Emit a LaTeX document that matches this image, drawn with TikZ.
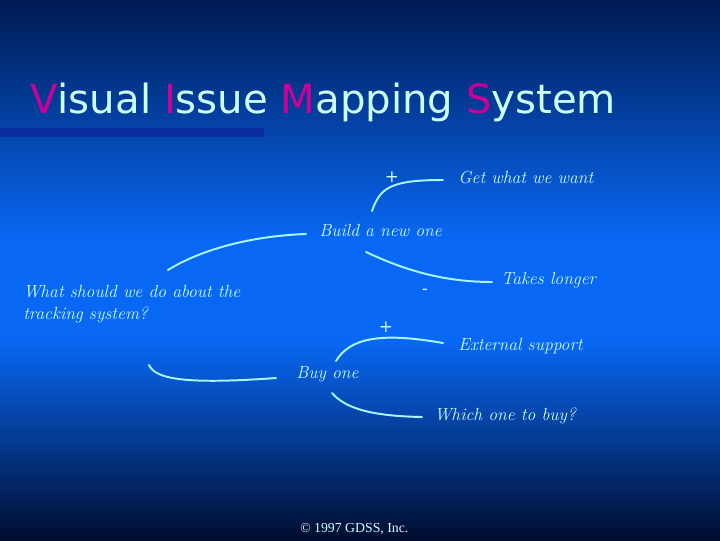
\documentclass[tikz,border=0pt]{standalone}
\usepackage{fontspec}
\usetikzlibrary{calc}
\newfontfamily\titlefont{DejaVu Sans}
\newfontfamily\timesfont{Liberation Serif}
\definecolor{bgtop}{HTML}{001A52}
\definecolor{bgmid}{HTML}{0868F4}
\definecolor{bgbot}{HTML}{000C2E}
\definecolor{barblue}{HTML}{0A2C9C}
\definecolor{initpink}{HTML}{CC0099}
\definecolor{paletext}{HTML}{CCFFFF}
\definecolor{paleline}{HTML}{A8F4FF}

\begin{document}
\begin{tikzpicture}[
  x=0.025cm, y=-0.025cm,
  every node/.style={inner sep=0pt},
  issue/.style={font=\fontsize{12.5}{15.6}\selectfont\itshape,text=paletext,anchor=base west},
  sign/.style={font=\titlefont\fontsize{12}{12}\selectfont,text=paletext},
  link/.style={paleline,line width=1.4pt,line cap=round}
]

% ---- canvas + background ----
\useasboundingbox (0,0) rectangle (720,540);
\fill[top color=bgtop,bottom color=bgmid] (0,0) rectangle (720,240);
\fill[bgmid] (0,239) rectangle (720,341);
\fill[top color=bgmid,bottom color=bgbot] (0,340) rectangle (720,540);

% ---- title ----
\node[font=\titlefont\fontsize{28.6}{28.6}\selectfont,text=paletext,anchor=base west] (title) at (30,113)
  {\textcolor{initpink}{V}isual \textcolor{initpink}{I}ssue \textcolor{initpink}{M}apping \textcolor{initpink}{S}ystem};
\fill[barblue] (0,128) rectangle (264,137);

% ---- issues ----
% (base of a two-line node sits on its last line)
\node[issue,align=left] (q) at (23,319) {What should we do about the\\tracking system?};
\node[issue] (build) at (319,236) {Build a new one};
\node[issue] (get) at (458,183) {Get what we want};
\node[issue] (takes) at (501,284) {Takes longer};
\node[issue] (buy) at (296,378) {Buy one};
\node[issue] (ext) at (458,350) {External support};
\node[issue] (which) at (434,420) {Which one to buy?};

% ---- pro / con signs ----
\node[sign] (plusget) at (392,177) {+};
\node[sign] (minustakes) at (425,292) {-};
\node[sign] (plusext) at (386,327) {+};

% ---- links ----
\draw[link] ([shift={(145,-49)}]q.base west) .. controls +(32,-20) and +(-56,2) .. ([shift={(-13,-2)}]build.base west);
\draw[link] ([shift={(53,-25)}]build.base west) .. controls +(8,-23) and +(-53,0) .. ([shift={(-15,-3)}]get.base west);
\draw[link] ([shift={(47,16)}]build.base west) .. controls +(34,16) and +(-52,0) .. ([shift={(-9,-2)}]takes.base west);
\draw[link] ([shift={(126,46)}]q.base west) .. controls +(6,13) and +(-96,7) .. ([shift={(-20,0)}]buy.base west);
\draw[link] ([shift={(40,-17)}]buy.base west) .. controls +(14,-23) and +(-63,-11) .. ([shift={(-15,-7)}]ext.base west);
\draw[link] ([shift={(36,15)}]buy.base west) .. controls +(13,15) and +(-52,-1) .. ([shift={(-12,-3)}]which.base west);

% ---- footer ----
\node[font=\timesfont\fontsize{9.8}{9.8}\selectfont,text=paletext,anchor=base west] (copy) at (300,532)
  {\textcopyright{} 1997 GDSS, Inc.};

\end{tikzpicture}
\end{document}
